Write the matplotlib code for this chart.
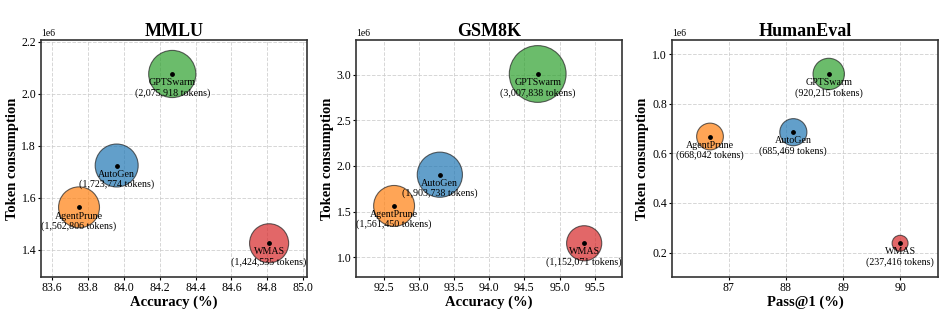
import matplotlib.pyplot as plt
import numpy as np
from matplotlib.ticker import MultipleLocator

plt.rcParams['font.family'] = ['Liberation Serif', 'DejaVu Serif']

methods = ["AgentPrune", "AutoGen", "GPTSwarm", "WMAS"]
colors = ["#ff7f0e", "#1f77b4", "#2ca02c", "#d62728"]

mmlu_acc = [83.75, 83.96, 84.27, 84.81]
mmlu_tokens = [1562806, 1723774, 2075918, 1424535]

gsm8k_acc = [92.65, 93.30, 94.69, 95.35]
gsm8k_tokens = [1561450, 1903738, 3007838, 1152071]

humaneval_acc = [86.67, 88.13, 88.75, 90.00]
humaneval_tokens = [668042, 685469, 920215, 237416]

# title, xlabel, x, y, x tick step, y tick step
panels = [
    ("MMLU", "Accuracy (%)", mmlu_acc, mmlu_tokens, 0.2, 0.2e6),
    ("GSM8K", "Accuracy (%)", gsm8k_acc, gsm8k_tokens, 0.5, 0.5e6),
    ("HumanEval", "Pass@1 (%)", humaneval_acc, humaneval_tokens, 1.0, 0.2e6),
]

fig = plt.figure(figsize=(9.47, 3.16), dpi=100)
lefts = [0.0433, 0.376, 0.7096]

for left, (title, xlabel, acc, tokens, xstep, ystep) in zip(lefts, panels):
    ax = fig.add_axes([left, 0.123, 0.281, 0.75])
    acc = np.array(acc)
    tokens = np.array(tokens)

    ax.scatter(acc, tokens, s=tokens / 1800, c=colors, alpha=0.7,
               edgecolors="#222222", linewidths=0.8, zorder=3)
    ax.scatter(acc, tokens, s=6, c="black", zorder=4)

    for name, x, y in zip(methods, acc, tokens):
        ax.annotate(f"{name}\n({y:,} tokens)", (x, y), xytext=(0, -3),
                    textcoords="offset points", ha="center", va="top",
                    fontsize=7.2, linespacing=1.1, zorder=5)

    xr = acc.max() - acc.min()
    yr = tokens.max() - tokens.min()
    ax.set_xlim(acc.min() - 0.2 * xr, acc.max() + 0.2 * xr)
    ax.set_ylim(tokens.min() - 0.2 * yr, tokens.max() + 0.2 * yr)
    ax.xaxis.set_major_locator(MultipleLocator(xstep))
    ax.yaxis.set_major_locator(MultipleLocator(ystep))

    ax.set_title(title, fontsize=13, fontweight="bold", pad=2.5)
    ax.set_xlabel(xlabel, fontsize=10.5, fontweight="bold", labelpad=1)
    ax.set_ylabel("Token consumption", fontsize=10.5, fontweight="bold", labelpad=2)
    ax.tick_params(labelsize=8.5, length=2, pad=1.5)
    ax.yaxis.get_offset_text().set_fontsize(7)
    ax.grid(True, linestyle="--", color="#cccccc", linewidth=0.7, alpha=0.8, zorder=0)
    ax.set_axisbelow(True)
    for sp in ax.spines.values():
        sp.set_color("#333333")
        sp.set_linewidth(1.2)

fig.savefig("out.png", dpi=100)
